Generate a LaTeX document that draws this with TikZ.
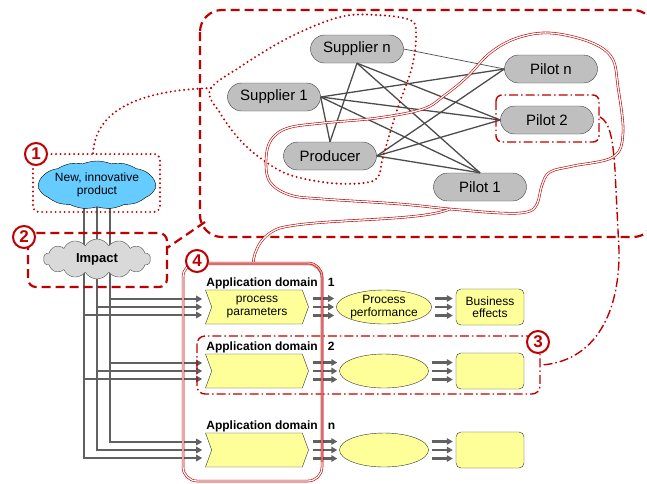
\documentclass[tikz,border=0pt]{standalone}
\usepackage{fontspec}
\setmainfont{Liberation Sans}
\usetikzlibrary{shapes.misc,shapes.symbols,shapes.geometric,arrows.meta,calc}
\definecolor{mred}{RGB}{192,0,0}
\definecolor{pale}{RGB}{255,255,153}
\definecolor{sky}{RGB}{102,204,255}
\pgfdeclarelayer{bg}
\pgfsetlayers{bg,main}
\begin{document}
\begin{tikzpicture}[x=1pt,y=-1pt,>={Triangle[length=6pt,width=6.5pt]},
  actor/.style={rounded rectangle,draw=black!75,fill=black!25,minimum width=95,minimum height=28,inner sep=1,font=\fontsize{15}{16}\selectfont},
  link/.style={draw=black!70,line width=1.3},
  feed/.style={->,draw=black!62,line width=2.2},
  num/.style={circle,draw=mred,line width=2,fill=white,text=mred,minimum size=22,inner sep=0,font=\fontsize{17}{17}\selectfont\bfseries},
  reddash/.style={mred,line width=2.2,dash pattern=on 9pt off 5pt},
  reddot/.style={mred,line width=2.2,dash pattern=on 0pt off 4.5pt,line cap=round},
  reddashdot/.style={mred,line width=1.4,dash pattern=on 9pt off 3pt on 1.5pt off 3pt},
  redtwin/.style={mred,line width=0.6,double=white,double distance=1.3},
  small/.style={font=\fontsize{12}{12.5}\selectfont,align=center},
  param/.style={small,signal,signal from=west,signal to=east,signal pointer angle=140,draw=black!80,fill=pale,minimum width=103,minimum height=34,inner sep=0},
  perf/.style={small,ellipse,draw=black!80,fill=pale,minimum width=89,minimum height=34,inner sep=0},
  effect/.style={small,rectangle,rounded corners=5,draw=black!80,fill=pale,minimum width=68,minimum height=36,inner sep=0},
  domlabel/.style={anchor=south west,inner sep=1,font=\fontsize{12}{12}\selectfont\bfseries}]
\useasboundingbox (0,0) rectangle (647,483);

% network of producer, suppliers and pilots
\node[actor] (supn) at (357,49) {Supplier n};
\node[actor] (sup1) at (274,97) {Supplier 1};
\node[actor] (prod) at (330,156) {Producer};
\node[actor] (piln) at (551,69) {Pilot n};
\node[actor] (pil2) at (547,120) {Pilot 2};
\node[actor] (pil1) at (480,187) {Pilot 1};
\draw[link,line width=0.7] (supn.east) -- (piln.west);
\foreach \a in {supn.south,sup1.east,prod.east}
\foreach \b in {pil1.north,pil2.west}
{
   \draw[link] (\a) -- (\b);
}
\foreach \a in {sup1.east,prod.east} \draw[link] (\a) -- (piln.west);
\foreach \a in {supn.south,sup1.east} \draw[link] (\a) -- (prod.north);

% product and impact
\node[cloud,cloud puffs=13,cloud puff arc=45,cloud ignores aspect,draw,fill=sky,minimum width=107,minimum height=48,inner sep=0,small] (novel) at (97,185) {New, innovative\\product};
\node[cloud,cloud puffs=14,cloud puff arc=120,cloud ignores aspect,draw=black!70,fill=black!15,minimum width=107,minimum height=40,inner sep=0,font=\fontsize{13}{13}\selectfont\bfseries] (impact) at (97,259) {Impact};

% application domains
\foreach \i/\y/\pa/\pb/\pc in {1/307/{process\\parameters}/{Process\\performance}/{Business\\effects},2/371/{}/{}/{},n/450/{}/{}/{}}
{
   \node[param] (par\i) at (257,\y) {\pa};
   \node[perf] (perf\i) at (384,\y) {\pb};
   \node[effect] (eff\i) at (490,\y) {\pc};
   \node[domlabel] (lab\i) at (par\i.north west) {Application domain\hspace{10pt}\i};
   \foreach \d in {-8.5,0,8.5}
   {
      \draw[feed] ([shift={(4,\d)}]par\i.east) -- ([shift={(-2,\d)}]perf\i.west);
      \draw[feed] ([shift={(3,\d)}]perf\i.east) -- ([shift={(-3,\d)}]eff\i.west);
   }
}

\begin{pgfonlayer}{bg}
\foreach \dx/\dy in {13/-8,0/0,-13/8}
{
   \draw[feed,-] ([xshift=\dx]novel.center) -- ([xshift=\dx]impact.center);
   \foreach \i in {1,2,n}
      \draw[feed] ([xshift=\dx]impact.center) |- ($(par\i.north west |- par\i.center)+(-3,\dy)$);
}
\end{pgfonlayer}

% red groupings
\draw[reddash,rounded corners=22] (200,10) rectangle (655,237);
\draw[reddash] (205,222) -- (167,248);
\draw[reddot,rounded corners=6] (33,154) rectangle (160,212);
\draw[reddash,rounded corners=8] (28,233) rectangle (167,287);
\draw[reddashdot,rounded corners=8] (197,336) rectangle (540,394);
\draw[reddashdot,rounded corners=6] ([shift={(-51,-25)}]pil2.center) rectangle ([shift={(52,22)}]pil2.center);
\draw[reddashdot] (600,117) .. controls (610,122) and (613,140) .. (615,170) -- (619,250) .. controls (620,320) and (590,362) .. (541,365);
\draw[reddot] plot[smooth cycle,tension=0.6] coordinates {(210,90) (240,67) (290,37) (340,17) (377,15) (410,20) (416,33) (412,67) (397,110) (383,157) (378,177) (363,183) (330,183) (290,175) (263,160) (240,140) (220,113)};
\draw[reddot] (211,88) .. controls (150,90) and (95,105) .. (93,154);
\draw[redtwin] plot[smooth cycle,tension=0.6] coordinates {(450,209) (400,204) (323,199) (290,195) (270,182) (266,160) (271,140) (288,128) (323,123) (377,118) (423,109) (445,95) (467,77) (490,53) (517,38) (550,33) (590,42) (612,58) (618,87) (623,133) (613,157) (573,166) (550,172) (542,185) (537,204) (527,212) (500,213)};
\draw[redtwin] (450,209) .. controls (420,222) and (320,218) .. (280,228) .. controls (262,234) and (254,250) .. (253,264);
\draw[redtwin,rounded corners=14] (183,263) rectangle (322,481);
\draw[mred,opacity=0.35,line width=2.8,rounded corners=14] (209,264) -- (322,264) -- (322,462);

\node[num] (c1) at (36,154) {1};
\node[num] (c2) at (24,237) {2};
\node[num] (c3) at (538,342) {3};
\node[num] (c4) at (197,261) {4};
\end{tikzpicture}
\end{document}
